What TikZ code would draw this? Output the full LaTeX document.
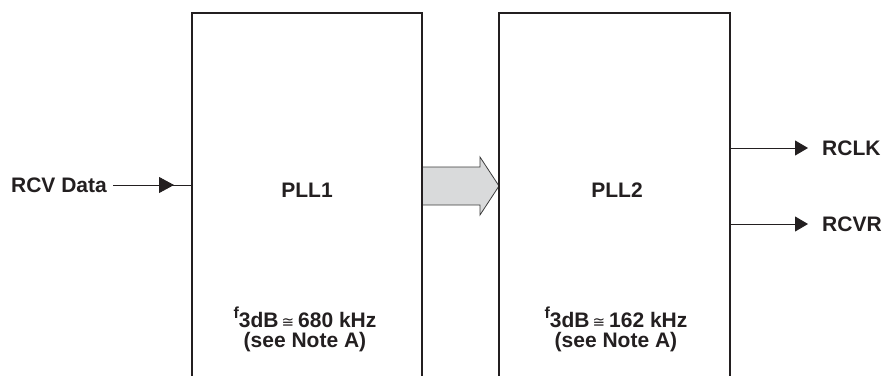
\documentclass[tikz,border=0pt]{standalone}
\usepackage{fontspec}
\setmainfont{Liberation Sans}
\newfontfamily\symfont{DejaVu Sans}
\usepackage{tikz}
\usetikzlibrary{arrows.meta, decorations.markings}
\definecolor{figK}{RGB}{35,31,32}
\definecolor{figF}{RGB}{217,218,219}
\definecolor{figE}{RGB}{60,60,60}
\tikzset{
  pllbox/.style={draw=figK, line width=2.8pt, minimum width=230pt, minimum height=420pt,
    inner sep=0pt, outer sep=0pt, anchor=north},
  lbl/.style={font=\fontsize{21}{23}\selectfont\bfseries, inner sep=0pt, text=figK},
  bwlbl/.style={lbl, align=center, anchor=north},
  sig/.style={draw=figK, line width=0.9pt, -{Triangle[length=13pt, width=15pt]}},
  midsig/.style={draw=figK, line width=0.9pt, decoration={markings,
    mark=at position 61pt with {\arrow{Triangle[length=15pt, width=16pt]}}}, postaction={decorate}},
  bigarrow/.style={fill=figF, draw=figE, line width=0.8pt, line join=miter}
}
\newcommand{\fdB}{\raisebox{9pt}{\fontsize{16}{16}\selectfont f}3dB\hspace{3pt}{\symfont\mdseries\fontsize{15}{15}\selectfont ≅}\hspace{4pt}}

\begin{document}
\begin{tikzpicture}[x=1pt, y=-1pt]
\useasboundingbox (0,0) rectangle (883,375);
\clip (0,0) rectangle (883,375);
% ===== wide arrow PLL1 -> PLL2 (under the boxes) =====
\draw[bigarrow] (422,167) -- (480,167) -- (480,157) -- (499,186) -- (480,215) -- (480,205) -- (422,205) -- cycle;
% ===== the two loops, open at the bottom =====
\node[pllbox] (pllone) at (307,13) {};
\node[pllbox, minimum width=231pt] (plltwo) at (614.5,13) {};
\node[lbl, anchor=base] (lblone) at (307,197) {PLL1};
\node[lbl, anchor=base] (lbltwo) at (617,197) {PLL2};
% bandwidth notes
\node[bwlbl] (bwone) at (305,306.5) {\fdB 680 kHz\\[-3pt](see Note A)};
\node[bwlbl] (bwtwo) at (616,306.5) {\fdB 162 kHz\\[-3pt](see Note A)};
% ===== input =====
\node[lbl, anchor=east] (rcv) at (107,185) {RCV Data};
\draw[midsig] ([xshift=6pt]rcv.east) -- (rcv.east -| pllone.west);
% ===== outputs =====
\node[lbl, anchor=west] (rclk) at (822,148) {RCLK};
\node[lbl, anchor=west] (rcvr) at (822,224) {RCVR};
\draw[sig, shorten >=14pt] (rclk.west -| plltwo.east) -- (rclk.west);
\draw[sig, shorten >=14pt] (rcvr.west -| plltwo.east) -- (rcvr.west);
\end{tikzpicture}
\end{document}
